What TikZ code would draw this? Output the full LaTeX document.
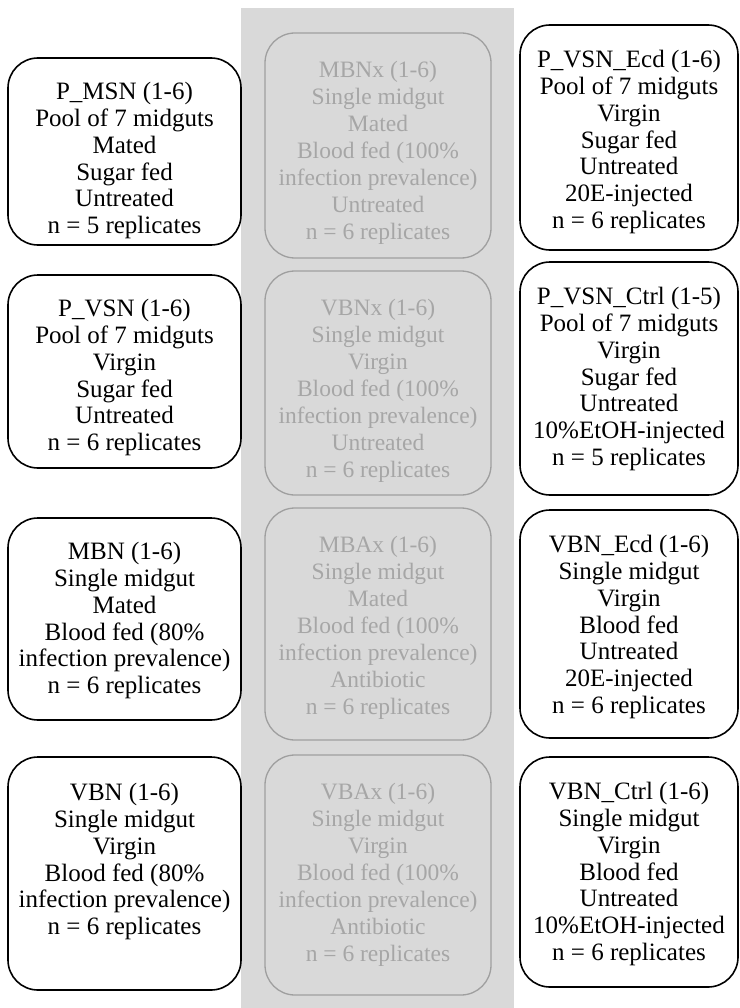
\documentclass[tikz,border=0pt]{standalone}
\usepackage{fontspec}
\setmainfont{Liberation Serif}
\begin{document}
\begin{tikzpicture}[x=1pt,y=-1pt,
  box/.style={draw=black, line width=1.6pt, rounded corners=30pt, fill=white, inner sep=0pt},
  gbox/.style={draw=gray!75, line width=1.3pt, rounded corners=30pt, inner sep=0pt},
  btxt/.style={anchor=north, align=center, inner sep=0pt,
    font=\fontsize{25}{26.8}\selectfont, text=black},
  gtxt/.style={anchor=north, align=center, inner sep=0pt,
    font=\fontsize{23.5}{27}\selectfont, text=gray!70},
  band/.style={fill=black!15, draw=none}]
\useasboundingbox (0,0) rectangle (739,1008);
\fill[white] (0,0) rectangle (739,1008);
\path[band] (241,8) rectangle (514,1008);
% left column
\node[box, minimum width=233pt, minimum height=187pt] (L1) at (124.5,151.5) {};
\node[btxt] (L1t) at ([yshift=-25pt]L1.north)
  {P\_MSN (1-6)\\Pool of 7 midguts\\Mated\\Sugar fed\\Untreated\\n = 5 replicates};
\node[box, minimum width=233pt, minimum height=193pt] (L2) at (124.5,371.5) {};
\node[btxt] (L2t) at ([yshift=-25pt]L2.north)
  {P\_VSN (1-6)\\Pool of 7 midguts\\Virgin\\Sugar fed\\Untreated\\n = 6 replicates};
\node[box, minimum width=233pt, minimum height=202pt] (L3) at (124.5,619) {};
\node[btxt] (L3t) at ([yshift=-25pt]L3.north)
  {MBN (1-6)\\Single midgut\\Mated\\Blood fed (80\%\\infection prevalence)\\n = 6 replicates};
\node[box, minimum width=233pt, minimum height=233pt] (L4) at (124.5,873.5) {};
\node[btxt] (L4t) at ([yshift=-27pt]L4.north)
  {VBN (1-6)\\Single midgut\\Virgin\\Blood fed (80\%\\infection prevalence)\\n = 6 replicates};
% middle column
\node[gbox, minimum width=226pt, minimum height=225pt] (M1) at (378,145.5) {};
\node[gtxt] (M1t) at ([yshift=-29pt]M1.north)
  {MBNx (1-6)\\Single midgut\\Mated\\Blood fed (100\%\\infection prevalence)\\Untreated\\n = 6 replicates};
\node[gbox, minimum width=226pt, minimum height=224pt] (M2) at (378,383) {};
\node[gtxt] (M2t) at ([yshift=-29pt]M2.north)
  {VBNx (1-6)\\Single midgut\\Virgin\\Blood fed (100\%\\infection prevalence)\\Untreated\\n = 6 replicates};
\node[gbox, minimum width=226pt, minimum height=232pt] (M3) at (378,624) {};
\node[gtxt] (M3t) at ([yshift=-29pt]M3.north)
  {MBAx (1-6)\\Single midgut\\Mated\\Blood fed (100\%\\infection prevalence)\\Antibiotic\\n = 6 replicates};
\node[gbox, minimum width=226pt, minimum height=240pt] (M4) at (378,875) {};
\node[gtxt] (M4t) at ([yshift=-29pt]M4.north)
  {VBAx (1-6)\\Single midgut\\Virgin\\Blood fed (100\%\\infection prevalence)\\Antibiotic\\n = 6 replicates};
% right column
\node[box, minimum width=218pt, minimum height=225pt] (R1) at (629,137.5) {};
\node[btxt] (R1t) at ([yshift=-26pt]R1.north)
  {P\_VSN\_Ecd (1-6)\\Pool of 7 midguts\\Virgin\\Sugar fed\\Untreated\\20E-injected\\n = 6 replicates};
\node[box, minimum width=218pt, minimum height=233pt] (R2) at (629,378.5) {};
\node[btxt] (R2t) at ([yshift=-26pt]R2.north)
  {P\_VSN\_Ctrl (1-5)\\Pool of 7 midguts\\Virgin\\Sugar fed\\Untreated\\10\%EtOH-injected\\n = 5 replicates};
\node[box, minimum width=218pt, minimum height=228pt] (R3) at (629,624) {};
\node[btxt] (R3t) at ([yshift=-26pt]R3.north)
  {VBN\_Ecd (1-6)\\Single midgut\\Virgin\\Blood fed\\Untreated\\20E-injected\\n = 6 replicates};
\node[box, minimum width=218pt, minimum height=230pt] (R4) at (629,872) {};
\node[btxt] (R4t) at ([yshift=-26pt]R4.north)
  {VBN\_Ctrl (1-6)\\Single midgut\\Virgin\\Blood fed\\Untreated\\10\%EtOH-injected\\n = 6 replicates};
\end{tikzpicture}
\end{document}
